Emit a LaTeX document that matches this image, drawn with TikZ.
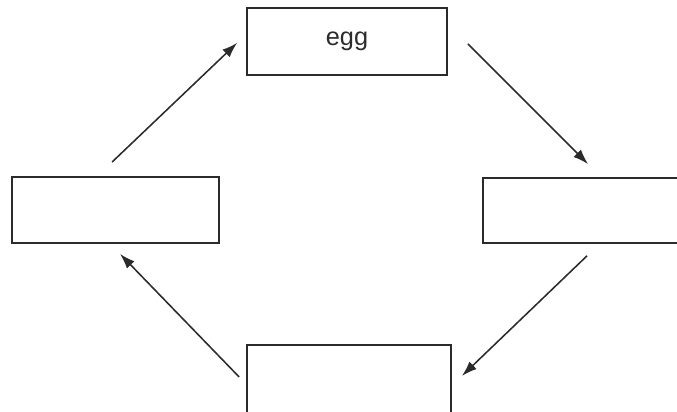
\documentclass[tikz,border=0pt]{standalone}
\usepackage{fontspec}
\setmainfont{Liberation Sans}
\usepackage{xcolor}
\usetikzlibrary{arrows.meta}

\definecolor{ink}{HTML}{2B2B2B}

\begin{document}
\begin{tikzpicture}[
  x=0.025cm, y=0.025cm,
  box/.style={draw=ink, line width=1.2pt, align=center, inner sep=0pt,
    font=\fontsize{18}{22}\selectfont, text=ink},
  arrow/.style={-{Latex[length=3.8mm, width=2.6mm]}, draw=ink, line width=1.1pt}
]
\useasboundingbox (0,0) rectangle (677,412);
\clip (0,0) rectangle (677,412);
\node[box, minimum width=5cm, minimum height=1.675cm] (egg) at (347,370.5) {egg};
\node[box, minimum width=5.175cm, minimum height=1.65cm] (left) at (115.5,202) {};
\node[box, minimum width=5.425cm, minimum height=1.625cm] (right) at (591.5,201.5) {};
\node[box, minimum width=5.1cm, minimum height=1.75cm] (bottom) at (349,32) {};
\draw[arrow, shorten <=0.51cm, shorten >=0.31cm]
  ([xshift=-0.455cm]left.north) -- ([yshift=0.18cm]egg.west);
\draw[arrow, shorten <=0.71cm, shorten >=0.46cm]
  ([yshift=0.44cm]egg.east) -- ([xshift=0.24cm]right.north);
\draw[arrow, shorten <=0.43cm, shorten >=0.35cm]
  ([xshift=0.2cm]right.south) -- ([yshift=-0.14cm]bottom.east);
\draw[arrow, shorten <=0.25cm, shorten >=0.35cm]
  ([yshift=-0.105cm]bottom.west) -- ([xshift=-0.13cm]left.south);
\end{tikzpicture}
\end{document}
